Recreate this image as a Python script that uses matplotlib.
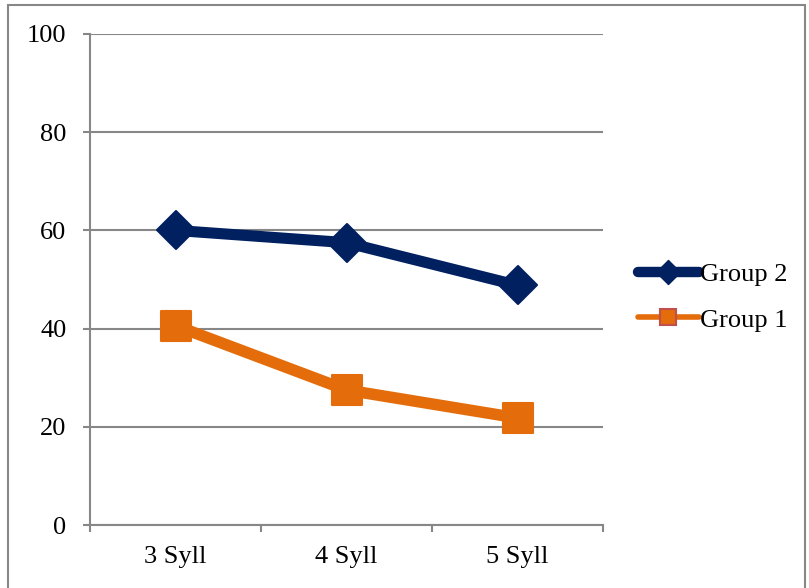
import numpy as np
import matplotlib.pyplot as plt
from matplotlib.lines import Line2D
from matplotlib.markers import MarkerStyle
from matplotlib.patches import Rectangle

categories = ["3 Syll", "4 Syll", "5 Syll"]
group2 = [60.0, 57.5, 48.8]
group1 = [40.6, 27.5, 21.8]
yticks = [0, 20, 40, 60, 80, 100]

navy = "#002060"
orange = "#E46C0A"
grid_gray = "#878787"

plt.rcParams['font.family'] = ['Liberation Serif', 'DejaVu Serif']

fig = plt.figure(figsize=(8.09, 5.88), dpi=100)
ax = fig.add_axes([90 / 809, 1 - 525 / 588, 513 / 809, 491 / 588])

x = np.arange(len(categories))
square = MarkerStyle('s', joinstyle='round')
diamond = MarkerStyle('D', joinstyle='round')

ax.plot(x, group1, color=orange, lw=8.3, marker=square, ms=22,
        mfc=orange, mec=orange, mew=1.5, solid_joinstyle='round', zorder=3)
ax.plot(x, group2, color=navy, lw=8, marker=diamond, ms=19,
        mfc=navy, mec=navy, mew=1.5, solid_joinstyle='round', zorder=4)

ax.set_xlim(-0.5, len(categories) - 0.5)
ax.set_ylim(0, 100)
ax.set_yticks(yticks)
ax.set_xticks(x)
ax.set_xticklabels(categories)
ax.set_xticks(np.arange(len(categories) + 1) - 0.5, minor=True)

ax.grid(axis='y', color=grid_gray, lw=1.5, zorder=0)
ax.set_axisbelow(True)
for side in ['top', 'right']:
    ax.spines[side].set_visible(False)
for side in ['left', 'bottom']:
    ax.spines[side].set_color(grid_gray)
    ax.spines[side].set_linewidth(1.5)

ax.tick_params(axis='y', length=5, width=1.5, color=grid_gray, pad=12,
               labelsize=19)
ax.tick_params(axis='x', which='major', length=0, pad=15, labelsize=19)
ax.tick_params(axis='x', which='minor', length=5, width=1.5, color=grid_gray)

handles = [
    Line2D([], [], color=navy, lw=7.5, marker=diamond, ms=12, mfc=navy,
           mec=navy, solid_capstyle='round'),
    Line2D([], [], color=orange, lw=4, marker='s', ms=11, mfc=orange,
           mec="#C0504D", mew=1.5, solid_capstyle='round'),
]
fig.legend(handles, ["Group 2", "Group 1"], loc='center left',
           bbox_to_anchor=(638 / 809, 1 - 297 / 588), frameon=False,
           fontsize=19, handlelength=2.3, handletextpad=0.05,
           labelspacing=0.85, borderpad=0, borderaxespad=0)

fig.patches.append(Rectangle((8 / 809, -0.01), 797 / 809, 1 - 5 / 588 + 0.01,
                             transform=fig.transFigure, fill=False,
                             edgecolor=grid_gray, lw=1.5))

fig.savefig("out.png", dpi=100)
